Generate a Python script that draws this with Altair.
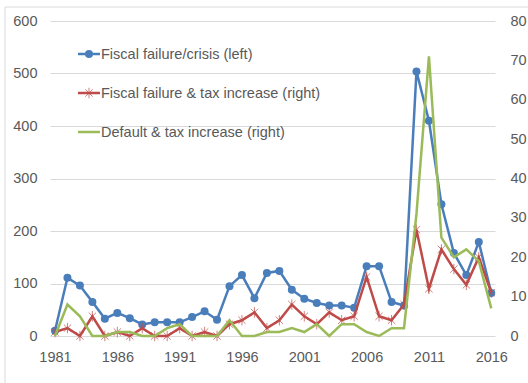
import altair as alt
import pandas as pd

# Annual counts, 1981-2016
years = list(range(1981, 2017))

# Fiscal failure/crisis (left axis)
fiscal_crisis = [10, 111, 96, 65, 33, 44, 34, 22, 26, 26, 26, 36, 47, 31, 95, 116, 72, 120, 124, 88,
                 71, 63, 58, 58, 54, 133, 133, 65, 58, 504, 410, 251, 158, 116, 179, 82]

# Fiscal failure & tax increase (right axis)
failure_tax = [1, 2, 0, 5, 0, 1, 0, 2, 0, 0, 2, 0, 1, 0, 3, 4, 6, 2, 4, 8,
               5, 3, 6, 4, 5, 15, 5, 4, 8, 27, 12, 22, 17, 13, 20, 11]

# Default & tax increase (right axis)
default_tax = [0, 8, 5, 0, 0, 1, 1, 0, 0, 2, 3, 0, 0, 0, 4, 0, 0, 1, 1, 2,
               1, 3, 0, 3, 3, 1, 0, 2, 2, 31, 71, 25, 20, 22, 19, 7]

series_names = ["Fiscal failure/crisis (left)",
                "Fiscal failure & tax increase (right)",
                "Default & tax increase (right)"]
colors = ["#4A7EBB", "#BE4B48", "#9BBB59"]

left_ticks = [0, 100, 200, 300, 400, 500, 600]
right_ticks = [0, 10, 20, 30, 40, 50, 60, 70, 80]
year_ticks = [1981, 1986, 1991, 1996, 2001, 2006, 2011, 2016]

FONT = "Liberation Sans"
GREY = "#595959"
GRID = "#D9D9D9"
ASTERISK = "M-0.7,-0.7L0.7,0.7M-0.7,0.7L0.7,-0.7M0,-1L0,1"

W, H = 445, 315

left_df = pd.DataFrame({"year": years, "value": fiscal_crisis})
red_df = pd.DataFrame({"year": years, "value": failure_tax})
green_df = pd.DataFrame({"year": years, "value": default_tax})

x_enc = alt.X("year:Q",
              scale=alt.Scale(domain=[1980.6, 2016.3], nice=False, zero=False),
              axis=alt.Axis(values=year_ticks, format="d", title=None, grid=False,
                            domain=False, ticks=False, labelPadding=14,
                            labelFontSize=14.5, labelColor=GREY, labelFont=FONT))

y_left = alt.Y("value:Q",
               scale=alt.Scale(domain=[0, 600], nice=False),
               axis=alt.Axis(values=left_ticks, title=None, grid=True, gridColor=GRID,
                             gridWidth=1, domain=False, ticks=False, labelPadding=13,
                             labelFontSize=14.5, labelColor=GREY, labelFont=FONT))

y_right = alt.Y("value:Q",
                scale=alt.Scale(domain=[0, 80], nice=False),
                axis=alt.Axis(values=right_ticks, orient="right", title=None, grid=False,
                              domain=False, ticks=False, labelPadding=15,
                              labelFontSize=14.5, labelColor=GREY, labelFont=FONT))

blue_line = alt.Chart(left_df).mark_line(color=colors[0], strokeWidth=2.5).encode(x=x_enc, y=y_left)
blue_pts = alt.Chart(left_df).mark_point(color=colors[0], filled=True, opacity=1, size=64,
                                         shape="circle").encode(x=x_enc, y=y_left)
left_layer = alt.layer(blue_line, blue_pts)

red_line = alt.Chart(red_df).mark_line(color=colors[1], strokeWidth=2.5).encode(x=x_enc, y=y_right)
red_pts = alt.Chart(red_df).mark_point(color=colors[1], shape=ASTERISK, filled=False, size=110,
                                       strokeWidth=1, opacity=0.7).encode(x=x_enc, y=y_right)
green_line = alt.Chart(green_df).mark_line(color=colors[2], strokeWidth=2.5).encode(x=x_enc, y=y_right)
right_layer = alt.layer(red_line, red_pts, green_line)

# Legend drawn inside the plot area, upper left
one = pd.DataFrame({"k": [0]})
legend_rows = [33, 72, 111]
legend_parts = []
for i, (name, col, ly) in enumerate(zip(series_names, colors, legend_rows)):
    legend_parts.append(alt.Chart(one).mark_rule(color=col, strokeWidth=2.5).encode(
        x=alt.value(28), x2=alt.value(50), y=alt.value(ly)))
    if i == 0:
        legend_parts.append(alt.Chart(one).mark_point(color=col, filled=True, opacity=1, size=64,
                                                      shape="circle").encode(
            x=alt.value(39), y=alt.value(ly)))
    elif i == 1:
        legend_parts.append(alt.Chart(one).mark_point(color=col, shape=ASTERISK, filled=False,
                                                      size=110, strokeWidth=1, opacity=0.7).encode(
            x=alt.value(39), y=alt.value(ly)))
    legend_parts.append(alt.Chart(one).mark_text(text=name, align="left", baseline="middle",
                                                 font=FONT, fontSize=14.5, color=GREY).encode(
        x=alt.value(51), y=alt.value(ly + 1)))

# Outer frame of the chart
frame = [
    alt.Chart(one).mark_rule(color=GRID, strokeWidth=1).encode(
        x=alt.value(-45), x2=alt.value(480), y=alt.value(-14)),
    alt.Chart(one).mark_rule(color=GRID, strokeWidth=1).encode(
        x=alt.value(-45), y=alt.value(-14), y2=alt.value(365)),
]

chart = alt.layer(left_layer, right_layer, *legend_parts, *frame).resolve_scale(
    y="independent"
).properties(
    width=W, height=H,
    autosize=alt.AutoSizeParams(type="none"),
    padding={"left": 50, "top": 21, "right": 33, "bottom": 47},
    background="white",
).configure_view(stroke=None)

chart.save("out.html", embed_options={"renderer": "svg", "actions": False})
